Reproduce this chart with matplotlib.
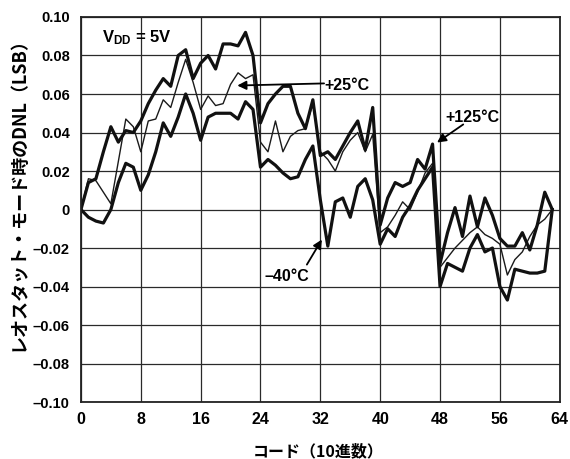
import numpy as np
import matplotlib
matplotlib.use("Agg")
import matplotlib.pyplot as plt

# -------- DATA (DNL in LSB vs code) --------
codes = list(range(64))

dnl_125 = [0, .014, .016, .030, .043, .035, .041, .040, .046, .055,
           .062, .068, .064, .080, .083, .068, .076, .080, .073, .086,
           .086, .085, .092, .080, .045, .055, .060, .064, .064, .050,
           .042, .057, .028, .030, .026, .033, .040, .046, .031, .053,
           -.008, .006, .014, .012, .014, .026, .021, .034, -.028, -.012,
           .001, -.014, .007, -.009, .006, -.003, -.015, -.019, -.019, -.012,
           -.021, -.008, .009, 0]

dnl_25 = [0, .016, .015, .009, .003, .025, .047, .043, .030, .046,
          .047, .057, .053, .066, .078, .066, .052, .059, .054, .055,
          .065, .071, .068, .070, .035, .030, .046, .030, .038, .041,
          .042, .055, .030, .026, .020, .030, .036, .040, .030, .039,
          -.012, -.009, -.003, .004, .000, .009, .019, .024, -.030, -.025,
          -.020, -.016, -.012, -.009, -.013, -.015, -.018, -.034, -.026, -.022,
          -.014, -.008, -.005, 0]

dnl_m40 = [0, -.004, -.006, -.007, 0, .014, .024, .022, .010, .018,
           .030, .045, .038, .048, .060, .050, .036, .048, .050, .050,
           .050, .047, .056, .052, .022, .026, .023, .019, .016, .017,
           .026, .033, .005, -.019, .004, .006, -.004, .012, .016, .005,
           -.018, -.010, -.014, -.004, .002, .010, .016, .022, -.040, -.028,
           -.030, -.032, -.020, -.013, -.022, -.020, -.040, -.047, -.031, -.032,
           -.033, -.033, -.032, 0]

x_ticks = [0, 8, 16, 24, 32, 40, 48, 56, 64]
y_ticks = [0.10, 0.08, 0.06, 0.04, 0.02, 0, -0.02, -0.04, -0.06, -0.08, -0.10]
y_tick_labels = ["0.10", "0.08", "0.06", "0.04", "0.02", "0",
                 "–0.02", "–0.04", "–0.06", "–0.08", "–0.10"]

# -------- PLOT --------
plt.rcParams['font.family'] = ['Liberation Sans', 'DejaVu Sans']
plt.rcParams['mathtext.fontset'] = 'custom'
plt.rcParams['mathtext.rm'] = 'Liberation Sans'
plt.rcParams['mathtext.bf'] = 'Liberation Sans:bold'
jp = ['Noto Sans CJK JP', 'DejaVu Sans']

fig = plt.figure(figsize=(5.70, 4.59), dpi=100)
ax = fig.add_axes([0.142, 0.124, 0.840, 0.839])

ax.plot(codes, dnl_25, color='#1a1a1a', lw=1.0, solid_joinstyle='round')
ax.plot(codes, dnl_m40, color='#111111', lw=2.3, solid_joinstyle='round')
ax.plot(codes, dnl_125, color='#111111', lw=2.3, solid_joinstyle='round')

ax.set_xlim(0, 64)
ax.set_ylim(-0.10, 0.10)
ax.set_xticks(x_ticks)
ax.set_yticks(y_ticks)
ax.set_yticklabels(y_tick_labels)
ax.tick_params(axis='x', length=0, pad=7, labelsize=11.5)
ax.tick_params(axis='y', length=0, pad=8, labelsize=10.5)
for lab in ax.get_xticklabels() + ax.get_yticklabels():
    lab.set_fontweight('bold')
ax.grid(True, color='#2a2a2a', lw=0.9)
for s in ax.spines.values():
    s.set_linewidth(1.3)
    s.set_color('#222222')

# axis titles
fig.text(318 / 570, 1 - 451 / 459, "コード（10進数）", family=jp, fontsize=11.5,
         fontweight='bold', ha='center', va='center')
fig.text(18 / 570, 1 - 190 / 459, "レオスタット・モード時のDNL（LSB）", family=jp,
         fontsize=13, fontweight='bold', rotation=90, ha='center', va='center')

# annotations
ax.text(2.8, 0.0868, r"$\mathbf{V_{DD}}$ = 5V", fontsize=12, fontweight='bold',
        ha='left', va='baseline')
ax.text(32.6, 0.0623, "+25°C", fontsize=11.5, fontweight='bold', ha='left', va='baseline')
ax.text(48.7, 0.0457, "+125°C", fontsize=11.5, fontweight='bold', ha='left', va='baseline')
ax.text(24.6, -0.0369, "–40°C", fontsize=11.5, fontweight='bold', ha='left', va='baseline')

arrow = dict(arrowstyle='-|>', color='black', lw=1.3, mutation_scale=13,
             shrinkA=0, shrinkB=0)
ax.annotate("", xy=(20.9, 0.0644), xytext=(32.5, 0.0655), arrowprops=arrow)
ax.annotate("", xy=(47.6, 0.0348), xytext=(51.1, 0.0442), arrowprops=arrow)
ax.annotate("", xy=(32.2, -0.0156), xytext=(30.2, -0.0286), arrowprops=arrow)

fig.savefig("out.png", dpi=100)
